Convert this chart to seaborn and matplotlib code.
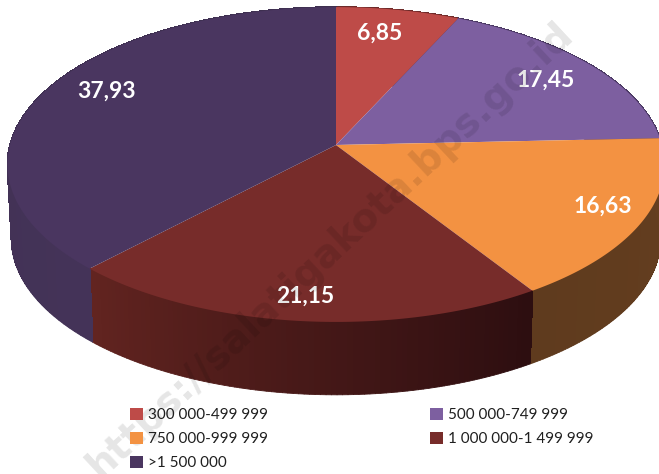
import numpy as np
import matplotlib
matplotlib.use("Agg")
import matplotlib.pyplot as plt
from matplotlib.collections import PolyCollection
from matplotlib.path import Path
import seaborn as sns

categories = ["300 000-499 999", "500 000-749 999", "750 000-999 999",
              "1 000 000-1 499 999", ">1 500 000"]
values = [6.85, 17.45, 16.63, 21.15, 37.93]

top_colors = ["#BE4B48", "#7D5FA0", "#F39242", "#772C2A", "#4A3660"]
side_colors = [("#6E2B2A", "#6E2B2A"), ("#483760", "#483760"), ("#5F3B1E", "#653E1F"),
               ("#622420", "#2D0E10"), ("#3E3050", "#443358")]
label_pos = [(380, 33), (546, 80), (603, 206), (305, 296), (107, 91)]

# pixel geometry of the tilted pie, the apex is not the ellipse centre
CX, CY = 336, 145
SX, SY = 326, 155
K = 0.124
DEPTH = 75
SHRINK = 0.988


def project(t, r=1.0, shrink=1.0, drop=0.0):
    x, y = r * np.cos(t), r * np.sin(t)
    d = 1 + K * y
    return CX + shrink * SX * x / d, CY - shrink * SY * y / d + drop


def wall(t, drop):
    x1, y1 = project(t)
    x2, y2 = project(t, shrink=SHRINK, drop=drop)
    return [[(x1[i], y1[i]), (x1[i + 1], y1[i + 1]), (x2[i + 1], y2[i + 1]), (x2[i], y2[i])]
            for i in range(len(t) - 1)]


sns.set_theme(style="white")
plt.rcParams["font.family"] = ["Lato", "DejaVu Sans"]

fig = plt.figure(figsize=(6.59, 4.74), dpi=100)
ax = fig.add_axes([0, 0, 1, 1])
wedges, _ = ax.pie(values, colors=top_colors, startangle=90, counterclock=False,
                   wedgeprops={"linewidth": 0})
ax.set_aspect("auto")
ax.set_xlim(0, 659)
ax.set_ylim(474, 0)
ax.axis("off")

for w, (c1, c2) in zip(wedges, side_colors):
    t = np.radians(np.linspace(w.theta1, w.theta2, 90))
    shades = sns.blend_palette([c1, c2], len(t) - 1)
    # smooth outer edge first, then the same quads without antialias to hide the seams
    ax.add_collection(PolyCollection(wall(t, DEPTH), facecolors=shades, edgecolors=shades,
                                     linewidths=0.6, zorder=1))
    ax.add_collection(PolyCollection(wall(t, DEPTH - 1.5), facecolors=shades, edgecolors=shades,
                                     linewidths=0.6, antialiaseds=False, zorder=1.5))
    # bend the pie wedge into the perspective ellipse
    x1, y1 = project(t)
    verts = [(CX, CY)] + list(zip(x1, y1)) + [(CX, CY)]
    w._path = Path(verts, closed=True)
    w.set_zorder(2)

for v, (lx, ly) in zip(values, label_pos):
    ax.text(lx, ly, f"{v:.2f}".replace(".", ","), color="white", fontsize=16.5,
            fontweight="bold", ha="center", va="center", zorder=4)

order = [0, 2, 4, 1, 3]
ax.legend([wedges[i] for i in order], [categories[i] for i in order], ncol=2,
          loc="upper left", bbox_to_anchor=(130 / 659, 1 - 408 / 474), frameon=False,
          fontsize=11, labelcolor="#1f1f1f", handlelength=0.85, handleheight=0.85,
          handletextpad=0.35, columnspacing=10.55, labelspacing=0.62,
          borderpad=0, borderaxespad=0)

ax.text(330, 250, "https://salatigakota.bps.go.id", rotation=43, rotation_mode="anchor",
        color="black", alpha=0.1, fontsize=28, fontweight="bold", family="DejaVu Sans",
        ha="center", va="center", zorder=5, clip_on=True)

fig.savefig("out.png", dpi=100)
